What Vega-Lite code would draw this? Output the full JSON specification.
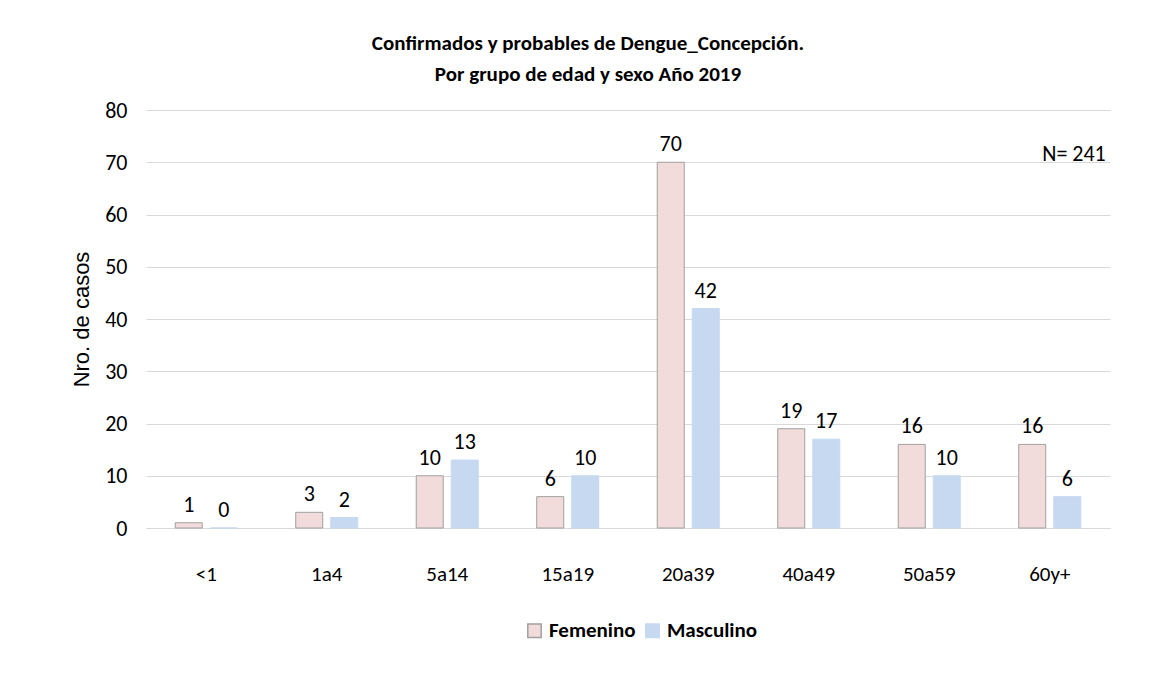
{
  "$schema": "https://vega.github.io/schema/vega-lite/v6.json",
  "autosize": "none",
  "width": 964,
  "height": 418,
  "padding": {"left": 146, "top": 110, "right": 54, "bottom": 145},
  "background": "white",
  "title": {
    "text": ["Confirmados y probables de Dengue_Concepción.", "Por grupo de edad y sexo Año 2019"],
    "font": "Carlito, 'Liberation Sans Narrow', Roboto",
    "fontSize": 21,
    "fontWeight": "bold",
    "color": "#000000",
    "anchor": "middle",
    "dx": -40,
    "lineHeight": 31,
    "offset": 14
  },
  "datasets": {
    "casos": [
      {"grupo": "<1", "sexo": "Femenino", "casos": 1},
      {"grupo": "<1", "sexo": "Masculino", "casos": 0},
      {"grupo": "1a4", "sexo": "Femenino", "casos": 3},
      {"grupo": "1a4", "sexo": "Masculino", "casos": 2},
      {"grupo": "5a14", "sexo": "Femenino", "casos": 10},
      {"grupo": "5a14", "sexo": "Masculino", "casos": 13},
      {"grupo": "15a19", "sexo": "Femenino", "casos": 6},
      {"grupo": "15a19", "sexo": "Masculino", "casos": 10},
      {"grupo": "20a39", "sexo": "Femenino", "casos": 70},
      {"grupo": "20a39", "sexo": "Masculino", "casos": 42},
      {"grupo": "40a49", "sexo": "Femenino", "casos": 19},
      {"grupo": "40a49", "sexo": "Masculino", "casos": 17},
      {"grupo": "50a59", "sexo": "Femenino", "casos": 16},
      {"grupo": "50a59", "sexo": "Masculino", "casos": 10},
      {"grupo": "60y+", "sexo": "Femenino", "casos": 16},
      {"grupo": "60y+", "sexo": "Masculino", "casos": 6}
    ],
    "nota": [
      {"grupo": "60y+", "casos": 70, "texto": "N= 241"}
    ]
  },
  "config": {
    "view": {"stroke": null},
    "font": "Carlito, 'Liberation Sans Narrow', Roboto"
  },
  "layer": [
    {
      "data": {"name": "casos"},
      "mark": {"type": "bar", "strokeWidth": 1},
      "encoding": {
        "x": {
          "field": "grupo", "type": "nominal", "sort": null,
          "scale": {"paddingInner": 0.485, "paddingOuter": 0.2425},
          "axis": {
            "title": null, "labelAngle": 0, "ticks": false, "domain": true,
            "domainColor": "#D9D9D9", "labelFontSize": 21, "labelColor": "#000000",
            "labelPadding": 35, "grid": false
          }
        },
        "xOffset": {"field": "sexo", "type": "nominal", "scale": {"paddingInner": 0.229, "paddingOuter": 0}},
        "y": {
          "field": "casos", "type": "quantitative",
          "scale": {"domain": [0, 80], "nice": false},
          "axis": {
            "title": "Nro. de casos", "titleFont": "Liberation Sans", "titleFontSize": 22,
            "titleFontWeight": "normal", "titleColor": "#000000", "titlePadding": 11,
            "values": [0, 10, 20, 30, 40, 50, 60, 70, 80],
            "domain": false, "ticks": false, "labelFontSize": 22, "labelColor": "#000000",
            "labelPadding": 19, "gridColor": "#D9D9D9", "gridWidth": 1
          }
        },
        "fill": {
          "field": "sexo", "type": "nominal",
          "scale": {"domain": ["Femenino", "Masculino"], "range": ["#F2DCDB", "#C6D9F1"]},
          "legend": {
            "title": null, "orient": "none", "legendX": 378, "legendY": 510, "direction": "horizontal",
            "labelFontSize": 21, "labelFontWeight": "bold", "labelColor": "#000000",
            "symbolType": "square", "symbolSize": 180, "columnPadding": 6,
            "labelOffset": 4
          }
        },
        "stroke": {
          "field": "sexo", "type": "nominal",
          "scale": {"domain": ["Femenino", "Masculino"], "range": ["#A0A0A0", "#C6D9F1"]},
          "legend": {
            "title": null, "orient": "none", "legendX": 378, "legendY": 510, "direction": "horizontal",
            "labelFontSize": 21, "labelFontWeight": "bold", "labelColor": "#000000",
            "symbolType": "square", "symbolSize": 180, "columnPadding": 6,
            "labelOffset": 4
          }
        }
      }
    },
    {
      "data": {"name": "casos"},
      "mark": {"type": "text", "baseline": "bottom", "dy": -6, "fontSize": 22, "color": "#000000"},
      "encoding": {
        "x": {"field": "grupo", "type": "nominal", "sort": null},
        "xOffset": {"field": "sexo", "type": "nominal"},
        "y": {"field": "casos", "type": "quantitative"},
        "text": {"field": "casos", "type": "quantitative"}
      }
    },
    {
      "data": {"name": "nota"},
      "mark": {"type": "text", "baseline": "alphabetic", "align": "right", "dx": 25, "dy": -1, "fontSize": 22, "color": "#000000"},
      "encoding": {
        "x": {"field": "grupo", "type": "nominal", "sort": null, "bandPosition": 1},
        "y": {"field": "casos", "type": "quantitative"},
        "text": {"field": "texto", "type": "nominal"}
      }
    }
  ]
}
